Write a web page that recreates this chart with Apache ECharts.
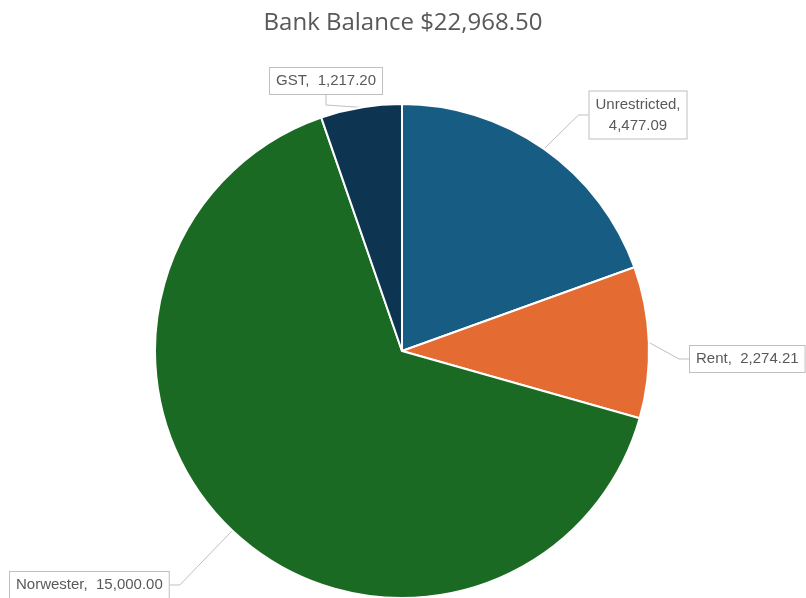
<!DOCTYPE html>
<html>
<head>
<meta charset="utf-8">
<script src="https://cdn.jsdelivr.net/npm/echarts@6/dist/echarts.min.js"></script>
<style>html,body{margin:0;padding:0;background:#fff;}#c{width:806px;height:598px;}</style>
</head>
<body>
<div id="c"></div>
<script>
const categories = ['Unrestricted', 'Rent', 'Norwester', 'GST'];
const values = [4477.09, 2274.21, 15000.00, 1217.20];
const colors = ['#175c82', '#e46c33', '#1b6a23', '#0d3450'];
const titleText = 'Bank Balance $22,968.50';

const labelPos = [
  {x: 638, y: 115, align: 'center'},
  {x: 690, y: 359, align: 'left'},
  {x: 10, y: 585, align: 'left'},
  {x: 326, y: 81, align: 'center'}
];
function fmt(v){ return v.toLocaleString('en-US', {minimumFractionDigits: 2, maximumFractionDigits: 2}); }

const chart = echarts.init(document.getElementById('c'));
chart.setOption({
  animation: false,
  title: {
    text: titleText, left: 'center', top: 6,
    textStyle: {fontFamily: 'Open Sans', fontSize: 24, fontWeight: 'normal', color: '#595959'}
  },
  series: [{
    type: 'pie',
    center: [402, 351],
    radius: 247,
    startAngle: 90,
    clockwise: true,
    data: categories.map((c, i) => ({name: c, value: values[i], itemStyle: {color: colors[i]}})),
    itemStyle: {borderColor: '#fff', borderWidth: 2},
    label: {
      show: true,
      formatter: p => p.dataIndex === 0 ? p.name + ',\n' + fmt(p.value) : p.name + ',  ' + fmt(p.value),
      fontFamily: 'Liberation Sans', fontSize: 15, color: '#595959', lineHeight: 21,
      backgroundColor: '#fff', borderColor: '#bfbfbf', borderWidth: 1, padding: [3, 6, 2, 6], align: 'center'
    },
    labelLine: {show: true, lineStyle: {color: '#bfbfbf', width: 1}, length: 10, length2: 10},
    labelLayout: function (params) {
      const p = labelPos[params.dataIndex];
      return {x: p.x, y: p.y, align: p.align, verticalAlign: 'middle'};
    }
  }]
});
</script>
</body>
</html>
